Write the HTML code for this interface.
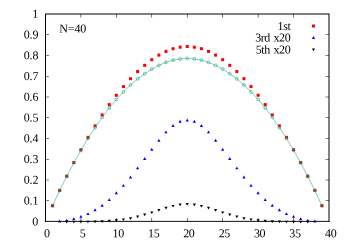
<!DOCTYPE html>
<html><head><meta charset="utf-8"><title>plot</title>
<style>html,body{margin:0;padding:0;background:#fff;width:350px;height:245px;overflow:hidden;font-family:"Liberation Serif",serif}</style></head>
<body>
<svg width="350" height="245" viewBox="0 0 350 245" style="position:absolute;left:0;top:0;will-change:transform">
<rect width="350" height="245" fill="#fff"/>
<g fill="#ff0000"><rect x="51.04" y="204.20" width="3.0" height="3.0"/><rect x="58.13" y="188.90" width="3.0" height="3.0"/><rect x="65.22" y="174.70" width="3.0" height="3.0"/><rect x="72.31" y="161.00" width="3.0" height="3.0"/><rect x="79.40" y="148.20" width="3.0" height="3.0"/><rect x="86.48" y="135.85" width="3.0" height="3.0"/><rect x="93.57" y="124.35" width="3.0" height="3.0"/><rect x="100.66" y="113.40" width="3.0" height="3.0"/><rect x="107.75" y="103.10" width="3.0" height="3.0"/><rect x="114.84" y="93.75" width="3.0" height="3.0"/><rect x="121.93" y="85.10" width="3.0" height="3.0"/><rect x="129.02" y="77.20" width="3.0" height="3.0"/><rect x="136.11" y="70.00" width="3.0" height="3.0"/><rect x="143.20" y="63.85" width="3.0" height="3.0"/><rect x="150.29" y="58.20" width="3.0" height="3.0"/><rect x="157.37" y="53.60" width="3.0" height="3.0"/><rect x="164.46" y="49.90" width="3.0" height="3.0"/><rect x="171.55" y="47.20" width="3.0" height="3.0"/><rect x="178.64" y="45.70" width="3.0" height="3.0"/><rect x="185.73" y="45.00" width="3.0" height="3.0"/><rect x="192.82" y="45.70" width="3.0" height="3.0"/><rect x="199.91" y="47.20" width="3.0" height="3.0"/><rect x="207.00" y="49.90" width="3.0" height="3.0"/><rect x="214.09" y="53.60" width="3.0" height="3.0"/><rect x="221.18" y="58.20" width="3.0" height="3.0"/><rect x="228.26" y="63.85" width="3.0" height="3.0"/><rect x="235.35" y="70.00" width="3.0" height="3.0"/><rect x="242.44" y="77.20" width="3.0" height="3.0"/><rect x="249.53" y="85.10" width="3.0" height="3.0"/><rect x="256.62" y="93.75" width="3.0" height="3.0"/><rect x="263.71" y="103.10" width="3.0" height="3.0"/><rect x="270.80" y="113.40" width="3.0" height="3.0"/><rect x="277.89" y="124.35" width="3.0" height="3.0"/><rect x="284.98" y="135.85" width="3.0" height="3.0"/><rect x="292.06" y="148.20" width="3.0" height="3.0"/><rect x="299.15" y="161.00" width="3.0" height="3.0"/><rect x="306.24" y="174.70" width="3.0" height="3.0"/><rect x="313.33" y="188.90" width="3.0" height="3.0"/><rect x="320.42" y="204.20" width="3.0" height="3.0"/></g>
<polyline points="52.54,205.71 59.63,190.45 66.72,176.35 73.81,162.85 80.90,150.37 87.98,138.46 95.07,127.55 102.16,117.32 109.25,107.86 116.34,99.46 123.43,91.83 130.52,85.00 137.61,78.88 144.70,73.77 151.79,69.08 158.87,65.34 165.96,62.34 173.05,60.17 180.14,58.99 187.23,58.40 194.32,58.99 201.41,60.17 208.50,62.34 215.59,65.34 222.68,69.08 229.76,73.77 236.85,78.88 243.94,85.00 251.03,91.83 258.12,99.46 265.21,107.86 272.30,117.32 279.39,127.55 286.48,138.46 293.56,150.37 300.65,162.85 307.74,176.35 314.83,190.45 321.92,205.71" fill="none" stroke="#009e73" stroke-width="0.5"/>
<g fill="none" stroke="#009e73" stroke-width="0.55"><circle cx="52.54" cy="205.71" r="1.45"/><circle cx="59.63" cy="190.45" r="1.45"/><circle cx="66.72" cy="176.35" r="1.45"/><circle cx="73.81" cy="162.85" r="1.45"/><circle cx="80.90" cy="150.37" r="1.45"/><circle cx="87.98" cy="138.46" r="1.45"/><circle cx="95.07" cy="127.55" r="1.45"/><circle cx="102.16" cy="117.32" r="1.45"/><circle cx="109.25" cy="107.86" r="1.45"/><circle cx="116.34" cy="99.46" r="1.45"/><circle cx="123.43" cy="91.83" r="1.45"/><circle cx="130.52" cy="85.00" r="1.45"/><circle cx="137.61" cy="78.88" r="1.45"/><circle cx="144.70" cy="73.77" r="1.45"/><circle cx="151.79" cy="69.08" r="1.45"/><circle cx="158.87" cy="65.34" r="1.45"/><circle cx="165.96" cy="62.34" r="1.45"/><circle cx="173.05" cy="60.17" r="1.45"/><circle cx="180.14" cy="58.99" r="1.45"/><circle cx="187.23" cy="58.40" r="1.45"/><circle cx="194.32" cy="58.99" r="1.45"/><circle cx="201.41" cy="60.17" r="1.45"/><circle cx="208.50" cy="62.34" r="1.45"/><circle cx="215.59" cy="65.34" r="1.45"/><circle cx="222.68" cy="69.08" r="1.45"/><circle cx="229.76" cy="73.77" r="1.45"/><circle cx="236.85" cy="78.88" r="1.45"/><circle cx="243.94" cy="85.00" r="1.45"/><circle cx="251.03" cy="91.83" r="1.45"/><circle cx="258.12" cy="99.46" r="1.45"/><circle cx="265.21" cy="107.86" r="1.45"/><circle cx="272.30" cy="117.32" r="1.45"/><circle cx="279.39" cy="127.55" r="1.45"/><circle cx="286.48" cy="138.46" r="1.45"/><circle cx="293.56" cy="150.37" r="1.45"/><circle cx="300.65" cy="162.85" r="1.45"/><circle cx="307.74" cy="176.35" r="1.45"/><circle cx="314.83" cy="190.45" r="1.45"/><circle cx="321.92" cy="205.71" r="1.45"/></g>
<g fill="#0000ff"><path d="M58.03 222.45L61.23 222.45L59.63 219.55Z"/><path d="M65.12 221.65L68.32 221.65L66.72 218.75Z"/><path d="M72.21 220.05L75.41 220.05L73.81 217.15Z"/><path d="M79.30 217.85L82.50 217.85L80.90 214.95Z"/><path d="M86.38 215.05L89.58 215.05L87.98 212.15Z"/><path d="M93.47 211.15L96.67 211.15L95.07 208.25Z"/><path d="M100.56 206.75L103.76 206.75L102.16 203.85Z"/><path d="M107.65 201.05L110.85 201.05L109.25 198.15Z"/><path d="M114.74 194.15L117.94 194.15L116.34 191.25Z"/><path d="M121.83 186.80L125.03 186.80L123.43 183.90Z"/><path d="M128.92 178.40L132.12 178.40L130.52 175.50Z"/><path d="M136.01 169.35L139.21 169.35L137.61 166.45Z"/><path d="M143.10 159.95L146.30 159.95L144.70 157.05Z"/><path d="M150.19 150.70L153.39 150.70L151.79 147.80Z"/><path d="M157.27 141.75L160.47 141.75L158.87 138.85Z"/><path d="M164.36 133.35L167.56 133.35L165.96 130.45Z"/><path d="M171.45 126.95L174.65 126.95L173.05 124.05Z"/><path d="M178.54 122.75L181.74 122.75L180.14 119.85Z"/><path d="M185.63 121.45L188.83 121.45L187.23 118.55Z"/><path d="M192.72 122.75L195.92 122.75L194.32 119.85Z"/><path d="M199.81 126.95L203.01 126.95L201.41 124.05Z"/><path d="M206.90 133.35L210.10 133.35L208.50 130.45Z"/><path d="M213.99 141.75L217.19 141.75L215.59 138.85Z"/><path d="M221.08 150.70L224.28 150.70L222.68 147.80Z"/><path d="M228.16 159.95L231.36 159.95L229.76 157.05Z"/><path d="M235.25 169.35L238.45 169.35L236.85 166.45Z"/><path d="M242.34 178.40L245.54 178.40L243.94 175.50Z"/><path d="M249.43 186.80L252.63 186.80L251.03 183.90Z"/><path d="M256.52 194.15L259.72 194.15L258.12 191.25Z"/><path d="M263.61 201.05L266.81 201.05L265.21 198.15Z"/><path d="M270.70 206.75L273.90 206.75L272.30 203.85Z"/><path d="M277.79 211.15L280.99 211.15L279.39 208.25Z"/><path d="M284.88 215.05L288.08 215.05L286.48 212.15Z"/><path d="M291.96 217.85L295.17 217.85L293.56 214.95Z"/><path d="M299.05 220.05L302.25 220.05L300.65 217.15Z"/><path d="M306.14 221.65L309.34 221.65L307.74 218.75Z"/><path d="M313.23 222.45L316.43 222.45L314.83 219.55Z"/></g>
<g fill="#000"><path d="M65.12 220.70L68.32 220.70L66.72 223.40Z"/><path d="M72.21 220.70L75.41 220.70L73.81 223.40Z"/><path d="M79.30 220.70L82.50 220.70L80.90 223.40Z"/><path d="M86.38 220.65L89.58 220.65L87.98 223.35Z"/><path d="M93.47 220.50L96.67 220.50L95.07 223.20Z"/><path d="M100.56 220.35L103.76 220.35L102.16 223.05Z"/><path d="M107.65 219.85L110.85 219.85L109.25 222.55Z"/><path d="M114.74 219.25L117.94 219.25L116.34 221.95Z"/><path d="M121.83 218.40L125.03 218.40L123.43 221.10Z"/><path d="M128.92 217.20L132.12 217.20L130.52 219.90Z"/><path d="M136.01 215.50L139.21 215.50L137.61 218.20Z"/><path d="M143.10 213.60L146.30 213.60L144.70 216.30Z"/><path d="M150.19 211.40L153.39 211.40L151.79 214.10Z"/><path d="M157.27 209.10L160.47 209.10L158.87 211.80Z"/><path d="M164.36 206.80L167.56 206.80L165.96 209.50Z"/><path d="M171.45 204.90L174.65 204.90L173.05 207.60Z"/><path d="M178.54 203.50L181.74 203.50L180.14 206.20Z"/><path d="M185.63 203.00L188.83 203.00L187.23 205.70Z"/><path d="M192.72 203.50L195.92 203.50L194.32 206.20Z"/><path d="M199.81 204.90L203.01 204.90L201.41 207.60Z"/><path d="M206.90 206.80L210.10 206.80L208.50 209.50Z"/><path d="M213.99 209.10L217.19 209.10L215.59 211.80Z"/><path d="M221.08 211.40L224.28 211.40L222.68 214.10Z"/><path d="M228.16 213.60L231.36 213.60L229.76 216.30Z"/><path d="M235.25 215.50L238.45 215.50L236.85 218.20Z"/><path d="M242.34 217.20L245.54 217.20L243.94 219.90Z"/><path d="M249.43 218.40L252.63 218.40L251.03 221.10Z"/><path d="M256.52 219.25L259.72 219.25L258.12 221.95Z"/><path d="M263.61 219.85L266.81 219.85L265.21 222.55Z"/><path d="M270.70 220.35L273.90 220.35L272.30 223.05Z"/><path d="M277.79 220.50L280.99 220.50L279.39 223.20Z"/><path d="M284.88 220.65L288.08 220.65L286.48 223.35Z"/><path d="M291.96 220.70L295.17 220.70L293.56 223.40Z"/><path d="M299.05 220.70L302.25 220.70L300.65 223.40Z"/><path d="M306.14 220.70L309.34 220.70L307.74 223.40Z"/></g>
<rect x="312.0" y="24.5" width="3.0" height="3.0" fill="#ff0000"/>
<g fill="#0000ff"><path d="M311.90 38.95L315.10 38.95L313.50 36.05Z"/></g>
<g fill="#000"><path d="M311.90 48.45L315.10 48.45L313.50 51.15Z"/></g>
<path d="M80.62 218.00h0.55v3.50h-0.55zM80.62 14.00h0.55v3.50h-0.55zM116.06 218.00h0.55v3.50h-0.55zM116.06 14.00h0.55v3.50h-0.55zM151.51 218.00h0.55v3.50h-0.55zM151.51 14.00h0.55v3.50h-0.55zM186.96 218.00h0.55v3.50h-0.55zM186.96 14.00h0.55v3.50h-0.55zM222.40 218.00h0.55v3.50h-0.55zM222.40 14.00h0.55v3.50h-0.55zM257.85 218.00h0.55v3.50h-0.55zM257.85 14.00h0.55v3.50h-0.55zM293.29 218.00h0.55v3.50h-0.55zM293.29 14.00h0.55v3.50h-0.55zM45.50 200.47h3.50v0.55h-3.50zM325.50 200.47h3.50v0.55h-3.50zM45.50 179.72h3.50v0.55h-3.50zM325.50 179.72h3.50v0.55h-3.50zM45.50 158.97h3.50v0.55h-3.50zM325.50 158.97h3.50v0.55h-3.50zM45.50 138.22h3.50v0.55h-3.50zM325.50 138.22h3.50v0.55h-3.50zM45.50 117.47h3.50v0.55h-3.50zM325.50 117.47h3.50v0.55h-3.50zM45.50 96.72h3.50v0.55h-3.50zM325.50 96.72h3.50v0.55h-3.50zM45.50 75.97h3.50v0.55h-3.50zM325.50 75.97h3.50v0.55h-3.50zM45.50 55.23h3.50v0.55h-3.50zM325.50 55.23h3.50v0.55h-3.50zM45.50 34.48h3.50v0.55h-3.50zM325.50 34.48h3.50v0.55h-3.50z" fill="#000"/>
<path d="M45.00 13.50h284.50v1.00h-284.50zM45.00 13.50h1.00v208.50h-1.00zM328.50 13.50h1.00v208.50h-1.00z" fill="#000"/>
<rect x="45" y="221" width="284.5" height="1" fill="#000" fill-opacity="0.82"/><rect x="46" y="220" width="282.5" height="1" fill="#000" fill-opacity="0.12"/>
<g font-family="Liberation Serif, serif" font-size="12px" fill="#000">
<text x="38.25" y="225.50" text-anchor="end" transform="rotate(0.03 38.25 225.50)">0</text>
<text x="38.25" y="204.45" text-anchor="end" letter-spacing="-0.15" transform="rotate(0.03 38.25 204.45)">0.1</text>
<text x="38.25" y="183.70" text-anchor="end" letter-spacing="-0.15" transform="rotate(0.03 38.25 183.70)">0.2</text>
<text x="38.25" y="162.95" text-anchor="end" letter-spacing="-0.15" transform="rotate(0.03 38.25 162.95)">0.3</text>
<text x="38.25" y="142.20" text-anchor="end" letter-spacing="-0.15" transform="rotate(0.03 38.25 142.20)">0.4</text>
<text x="38.25" y="121.45" text-anchor="end" letter-spacing="-0.15" transform="rotate(0.03 38.25 121.45)">0.5</text>
<text x="38.25" y="100.70" text-anchor="end" letter-spacing="-0.15" transform="rotate(0.03 38.25 100.70)">0.6</text>
<text x="38.25" y="79.95" text-anchor="end" letter-spacing="-0.15" transform="rotate(0.03 38.25 79.95)">0.7</text>
<text x="38.25" y="59.20" text-anchor="end" letter-spacing="-0.15" transform="rotate(0.03 38.25 59.20)">0.8</text>
<text x="38.25" y="38.45" text-anchor="end" letter-spacing="-0.15" transform="rotate(0.03 38.25 38.45)">0.9</text>
<text x="38.25" y="17.70" text-anchor="end" transform="rotate(0.03 38.25 17.70)">1</text>
<text x="46.95" y="237.35" text-anchor="middle" transform="rotate(0.03 46.95 237.35)">0</text>
<text x="82.65" y="237.35" text-anchor="middle" transform="rotate(0.03 82.65 237.35)">5</text>
<text x="118.19" y="237.35" text-anchor="middle" letter-spacing="-0.3" transform="rotate(0.03 118.19 237.35)">10</text>
<text x="153.69" y="237.35" text-anchor="middle" letter-spacing="-0.3" transform="rotate(0.03 153.69 237.35)">15</text>
<text x="188.83" y="237.35" text-anchor="middle" letter-spacing="-0.3" transform="rotate(0.03 188.83 237.35)">20</text>
<text x="224.38" y="237.35" text-anchor="middle" letter-spacing="-0.3" transform="rotate(0.03 224.38 237.35)">25</text>
<text x="259.62" y="237.35" text-anchor="middle" letter-spacing="-0.3" transform="rotate(0.03 259.62 237.35)">30</text>
<text x="295.01" y="237.35" text-anchor="middle" letter-spacing="-0.3" transform="rotate(0.03 295.01 237.35)">35</text>
<text x="330.71" y="237.35" text-anchor="middle" letter-spacing="-0.3" transform="rotate(0.03 330.71 237.35)">40</text>
<text x="59.30" y="32.50" letter-spacing="-0.12" transform="rotate(0.03 59.30 32.50)">N=40</text>
<text x="290.50" y="30.10" text-anchor="end" letter-spacing="-0.35" transform="rotate(0.03 290.50 30.10)">1st</text>
<text x="269.60" y="41.60" text-anchor="end" letter-spacing="-0.55" transform="rotate(0.03 269.60 41.60)">3rd</text>
<text x="290.50" y="41.60" text-anchor="end" letter-spacing="-0.3" transform="rotate(0.03 290.50 41.60)">x20</text>
<text x="269.90" y="53.60" text-anchor="end" letter-spacing="-0.4" transform="rotate(0.03 269.90 53.60)">5th</text>
<text x="290.50" y="53.60" text-anchor="end" letter-spacing="-0.3" transform="rotate(0.03 290.50 53.60)">x20</text>
</g>
</svg>
</body></html>
